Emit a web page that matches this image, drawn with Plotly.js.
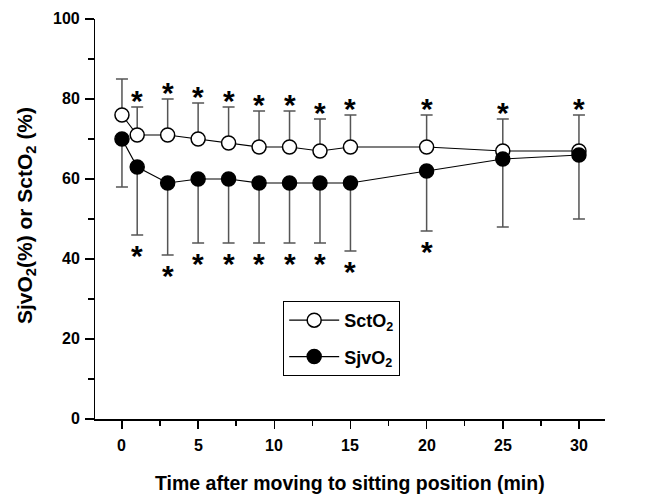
<!DOCTYPE html>
<html>
<head>
<meta charset="utf-8">
<script src="https://cdn.plot.ly/plotly-3.0.1.min.js"></script>
<style>
html,body{margin:0;padding:0;background:#fff;}
#chart{width:650px;height:502px;}
</style>
</head>
<body>
<div id="chart"></div>
<script>
// Time after moving to sitting position (min)
var timeMin = [0, 1, 3, 5, 7, 9, 11, 13, 15, 20, 25, 30];
// SctO2 mean (%) and SD (upper error bar)
var sctMean = [76, 71, 71, 70, 69, 68, 68, 67, 68, 68, 67, 67];
var sctSD   = [9, 7, 9, 9, 9, 9, 9, 8, 8, 8, 8, 9];
// SjvO2 mean (%) and SD (lower error bar)
var sjvMean = [70, 63, 59, 60, 60, 59, 59, 59, 59, 62, 65, 66];
var sjvSD   = [12, 17, 18, 16, 16, 15, 15, 15, 17, 15, 17, 16];
// significance markers (1 = asterisk)
var sctSig = [0, 1, 1, 1, 1, 1, 1, 1, 1, 1, 1, 1];
var sjvSig = [0, 1, 1, 1, 1, 1, 1, 1, 1, 1, 0, 0];
var xTickVals = [0, 5, 10, 15, 20, 25, 30];
var yTickVals = [0, 20, 40, 60, 80, 100];
var xTitle = 'Time after moving to sitting position (min)';
var yTitle = 'SjvO<sub>2</sub>(%) or SctO<sub>2</sub> (%)';

var zeros = timeMin.map(function(){return 0;});
var font = 'Liberation Sans, Arial, sans-serif';

var sct = {
  x: timeMin, y: sctMean, type: 'scatter', mode: 'lines+markers',
  name: 'SctO<sub>2</sub>', legendgroup: 'a',
  line: {color: '#000', width: 1.2},
  marker: {symbol: 'circle', size: 14, color: '#fff', line: {color: '#000', width: 1.5}},
  error_y: {type: 'data', symmetric: false, array: sctSD, arrayminus: zeros,
            color: '#555', thickness: 1.5, width: 6}
};
var sjv = {
  x: timeMin, y: sjvMean, type: 'scatter', mode: 'lines+markers',
  name: 'SjvO<sub>2</sub>', legendgroup: 'b',
  line: {color: '#000', width: 1.2},
  marker: {symbol: 'circle', size: 14, color: '#000', line: {color: '#000', width: 1.5}},
  error_y: {type: 'data', symmetric: false, array: zeros, arrayminus: sjvSD,
            color: '#555', thickness: 1.5, width: 6}
};

var annotations = [];
timeMin.forEach(function(t, i){
  if (sctSig[i]) annotations.push({x: t, y: sctMean[i] + sctSD[i], xref: 'x', yref: 'y',
    text: '*', showarrow: false, yanchor: 'middle', yshift: 6.5,
    font: {family: font, size: 30, weight: 'bold', color: '#000'}});
  if (sjvSig[i]) annotations.push({x: t, y: sjvMean[i] - sjvSD[i], xref: 'x', yref: 'y',
    text: '*', showarrow: false, yanchor: 'middle', yshift: -20.5,
    font: {family: font, size: 30, weight: 'bold', color: '#000'}});
});

var tickFont = {family: font, size: 16, weight: 'bold', color: '#000'};
// tick labels (placed on the axes' own scales)
xTickVals.forEach(function(v){
  annotations.push({x: v, xref: 'x', y: 0, yref: 'paper', text: String(v), showarrow: false,
    xanchor: 'center', yanchor: 'middle', yshift: -26, font: tickFont});
});
yTickVals.forEach(function(v){
  annotations.push({x: 0, xref: 'paper', y: v, yref: 'y', text: String(v), showarrow: false,
    xanchor: 'right', yanchor: 'middle', xshift: -13, yshift: 1, font: tickFont});
});
// axis titles
annotations.push({x: 0.5, xref: 'paper', y: 0, yref: 'paper', text: xTitle, showarrow: false,
  xanchor: 'center', yanchor: 'middle', yshift: -64,
  font: {family: font, size: 19.5, weight: 'bold', color: '#000'}});
annotations.push({x: 0, xref: 'paper', y: 0.5, yref: 'paper', text: yTitle, showarrow: false,
  xanchor: 'center', yanchor: 'middle', xshift: -69, yshift: 3, textangle: -90,
  font: {family: font, size: 21, weight: 'bold', color: '#000'}});

var layout = {
  width: 650, height: 502,
  margin: {l: 95, r: 45, t: 19, b: 83},
  paper_bgcolor: '#fff', plot_bgcolor: '#fff',
  font: {family: font, color: '#000'},
  showlegend: true,
  legend: {x: 0.369, y: 0.295, xanchor: 'left', yanchor: 'top',
           bordercolor: '#000', borderwidth: 1, bgcolor: '#fff',
           font: {family: font, size: 18, weight: 'bold', color: '#000'},
           itemwidth: 50,
           tracegroupgap: 10, traceorder: 'grouped'},
  xaxis: {
    range: [-1.77, 31.71], showgrid: false, zeroline: false,
    showline: true, linecolor: '#000', linewidth: 1.5,
    ticks: 'outside', ticklen: 8, tickwidth: 1.5, tickcolor: '#000',
    tickmode: 'array', tickvals: xTickVals, showticklabels: false,
    minor: {dtick: 2.5, tick0: 0, ticks: 'outside', ticklen: 5, tickwidth: 1.5, tickcolor: '#000'}
  },
  yaxis: {
    range: [0, 100], showgrid: false, zeroline: false,
    showline: true, linecolor: '#000', linewidth: 1.5,
    ticks: 'outside', ticklen: 9, tickwidth: 1.5, tickcolor: '#000',
    tickmode: 'array', tickvals: yTickVals, showticklabels: false,
    minor: {dtick: 10, tick0: 0, ticks: 'outside', ticklen: 6, tickwidth: 1.5, tickcolor: '#000'}
  },
  annotations: annotations
};

Plotly.newPlot('chart', [sct, sjv], layout, {displayModeBar: false, staticPlot: true});
</script>
</body>
</html>
